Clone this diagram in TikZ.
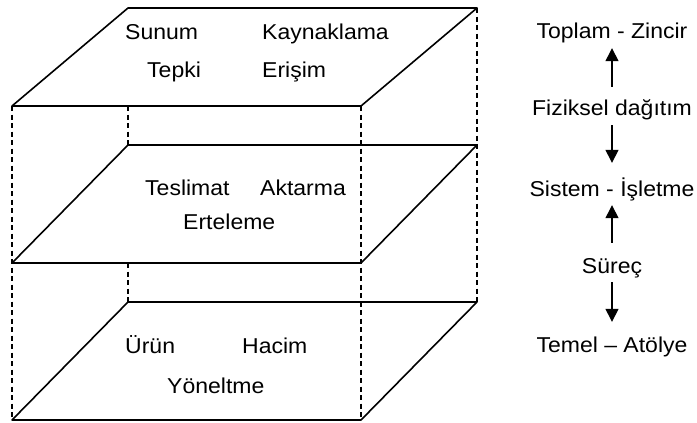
\documentclass[tikz,border=0pt]{standalone}
\usepackage{fontspec}
\setmainfont{Liberation Sans}[FakeStretch=1.07]
\usetikzlibrary{arrows.meta}
\begin{document}
\begin{tikzpicture}[x=1bp,y=-1bp,
  plane/.style={line width=1.6bp, line join=round},
  hidden/.style={line width=1.3bp, dash pattern=on 5bp off 3.5bp},
  lbl/.style={anchor=base west, inner sep=0pt, font=\fontsize{21.5bp}{24bp}\selectfont},
  side/.style={anchor=base, inner sep=0pt, text height=16bp, text depth=5bp, font=\fontsize{21.5bp}{24bp}\selectfont},
  arr/.style={line width=1.4bp, -{Triangle[length=13bp,width=13bp]}}]
\useasboundingbox (0,0) rectangle (697,422);
% hidden edges
\draw[hidden] (12,106) -- (12,420);
\draw[hidden] (128,106) -- (128,145);
\draw[hidden] (128,263) -- (128,302);
\draw[hidden] (361,106) -- (361,420);
\draw[hidden] (477,8) -- (477,302);
% planes
\draw[plane] (12,106) -- (128,8) -- (477,8) -- (361,106) -- cycle;
\draw[plane] (12,263) -- (128,145) -- (477,145) -- (361,263) -- cycle;
\draw[plane] (12,420) -- (128,302) -- (477,302) -- (361,420) -- cycle;
% plane texts
\node[lbl] (sunum) at (125,39) {Sunum};
\node[lbl] (kayn) at (262,39) {Kaynaklama};
\node[lbl] (tepki) at (147,77) {Tepki};
\node[lbl] (erisim) at (262,77) {Erişim};
\node[lbl] (tesl) at (145,195) {Teslimat};
\node[lbl] (aktar) at (260,195) {Aktarma};
\node[lbl] (ertel) at (183,229) {Erteleme};
\node[lbl] (urun) at (125,353) {Ürün};
\node[lbl] (hacim) at (242,353) {Hacim};
\node[lbl] (yonel) at (167,393) {Yöneltme};
% right column
\node[side] (top) at (612,38) {Toplam - Zincir};
\node[side] (fiz) at (612,115) {Fiziksel dağıtım};
\node[side] (sis) at (612,196) {Sistem - İşletme};
\node[side] (sur) at (612,273) {Süreç};
\node[side] (tem) at (612,352) {Temel – Atölye};
\draw[arr, shorten <=12bp, shorten >=5bp] (fiz.north) -- (top.south);
\draw[arr, shorten <=5bp, shorten >=17bp] (fiz.south) -- (sis.north);
\draw[arr, shorten <=14bp, shorten >=4bp] (sur.north) -- (sis.south);
\draw[arr, shorten <=4bp, shorten >=14bp] (sur.south) -- (tem.north);
\end{tikzpicture}
\end{document}
